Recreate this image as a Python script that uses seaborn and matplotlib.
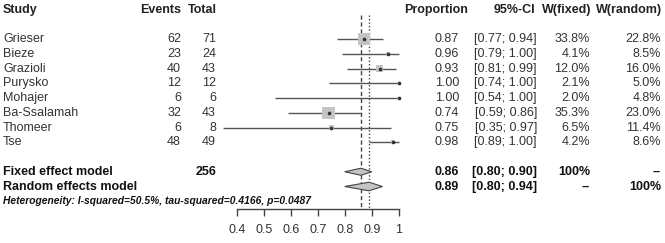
import numpy as np
import pandas as pd
import matplotlib
matplotlib.use("Agg")
import matplotlib.pyplot as plt
import seaborn as sns
from matplotlib.patches import Polygon

sns.set_theme(style="white")
plt.rcParams['font.family'] = ['Liberation Sans', 'DejaVu Sans']

studies = ["Grieser", "Bieze", "Grazioli", "Purysko", "Mohajer", "Ba-Ssalamah", "Thomeer", "Tse"]
events = [62, 23, 40, 12, 6, 32, 6, 48]
totals = [71, 24, 43, 12, 6, 43, 8, 49]
prop = [0.87, 0.96, 0.93, 1.00, 1.00, 0.74, 0.75, 0.98]
lower = [0.77, 0.79, 0.81, 0.74, 0.54, 0.59, 0.35, 0.89]
upper = [0.94, 1.00, 0.99, 1.00, 1.00, 0.86, 0.97, 1.00]
w_fixed = [33.8, 4.1, 12.0, 2.1, 2.0, 35.3, 6.5, 4.2]
w_random = [22.8, 8.5, 16.0, 5.0, 4.8, 23.0, 11.4, 8.6]

fixed_est, fixed_lo, fixed_hi = 0.86, 0.80, 0.90
rand_est, rand_lo, rand_hi = 0.89, 0.80, 0.94
total_n = 256
het_text = "Heterogeneity: I-squared=50.5%, tau-squared=0.4166, p=0.0487"
xticks = [0.4, 0.5, 0.6, 0.7, 0.8, 0.9, 1.0]
xticklabels = ["0.4", "0.5", "0.6", "0.7", "0.8", "0.9", "1"]

df = pd.DataFrame({"study": studies, "prop": prop, "lo": lower, "hi": upper,
                   "wf": w_fixed, "row": np.arange(len(studies))})

W, H = 665, 243
fig = plt.figure(figsize=(W / 100, H / 100), dpi=100)
ax = fig.add_axes([0, 0, 1, 1])
# pixel mapping: x_px = 236.7 + (v-0.4)*270 ; y_px = 39 + row*14.75
ax.set_xlim(0.4 - 236.7 / 270, 0.4 + (W - 236.7) / 270)
ax.set_ylim((H - 39) / 14.75, -39 / 14.75)

def px2x(px):
    return 0.4 + (px - 236.7) / 270

fs = 9
dark = "#555555"

# CI lines
ax.hlines(df["row"], df["lo"], df["hi"], color=dark, lw=1.0, zorder=2)
# squares
sns.scatterplot(data=df, x="prop", y="row", size="wf", sizes=(75 * 2.0 / 33.8, 75 * 35.3 / 33.8),
                size_norm=(2.0, 35.3), marker="s", color="#c4c4c4", edgecolor="none",
                legend=False, ax=ax, zorder=3)
ax.scatter(df["prop"], df["row"], s=7, color="#333333", zorder=4, marker="o", linewidths=0)

# summary diamonds
for (est, lo, hi, row, hh) in [(fixed_est, fixed_lo, fixed_hi, 9, 0.24), (rand_est, rand_lo, rand_hi, 10, 0.29)]:
    ax.add_patch(Polygon([[lo, row], [est, row - hh], [hi, row], [est, row + hh]],
                         closed=True, facecolor="#c4c4c4", edgecolor="#444444", lw=0.8, zorder=3))

# reference lines
axis_row = (209 - 39) / 14.75
ax.vlines(fixed_est, -1.63, axis_row, color="#444444", lw=1.0, ls=(0, (3, 2)), zorder=1)
ax.vlines(rand_est, -1.63, axis_row, color="#444444", lw=1.0, ls=(0, (1, 1.5)), zorder=1)

# axis
for s in ["top", "right", "left"]:
    ax.spines[s].set_visible(False)
ax.spines["bottom"].set_position(("data", axis_row))
ax.spines["bottom"].set_bounds(0.4, 1.0)
ax.spines["bottom"].set_color("#444444")
ax.spines["bottom"].set_linewidth(1.0)
ax.set_xticks(xticks)
ax.set_xticklabels(xticklabels, fontsize=fs, color="#333333")
ax.tick_params(axis="x", direction="out", length=5, width=1.0, color="#444444", pad=6, bottom=True)
ax.set_yticks([])
ax.set_xlabel("")
ax.set_ylabel("")

# column texts
txt = "#333333"
hc = "#222222"
hdr_row = -2
ax.text(px2x(3), hdr_row, "Study", fontsize=fs, fontweight="bold", ha="left", va="center", color=hc)
ax.text(px2x(181), hdr_row, "Events", fontsize=fs, fontweight="bold", ha="right", va="center", color=hc)
ax.text(px2x(217), hdr_row, "Total", fontsize=fs, fontweight="bold", ha="right", va="center", color=hc)
ax.text(px2x(404), hdr_row, "Proportion", fontsize=fs, fontweight="bold", ha="left", va="center", color=hc)
ax.text(px2x(535), hdr_row, "95%-CI", fontsize=fs, fontweight="bold", ha="right", va="center", color=hc)
ax.text(px2x(591), hdr_row, "W(fixed)", fontsize=fs, fontweight="bold", ha="right", va="center", color=hc)
ax.text(px2x(662), hdr_row, "W(random)", fontsize=fs, fontweight="bold", ha="right", va="center", color=hc)

for i in range(len(studies)):
    ax.text(px2x(3), i, studies[i], fontsize=fs, ha="left", va="center", color=txt)
    ax.text(px2x(181), i, f"{events[i]}", fontsize=fs, ha="right", va="center", color=txt)
    ax.text(px2x(216), i, f"{totals[i]}", fontsize=fs, ha="right", va="center", color=txt)
    ax.text(px2x(459), i, f"{prop[i]:.2f}", fontsize=fs, ha="right", va="center", color=txt)
    ax.text(px2x(537), i, f"[{lower[i]:.2f}; {upper[i]:.2f}]", fontsize=fs, ha="right", va="center", color=txt)
    ax.text(px2x(590), i, f"{w_fixed[i]:.1f}%", fontsize=fs, ha="right", va="center", color=txt)
    ax.text(px2x(661), i, f"{w_random[i]:.1f}%", fontsize=fs, ha="right", va="center", color=txt)

bk = "#111111"
ax.text(px2x(3), 9, "Fixed effect model", fontsize=fs, fontweight="bold", ha="left", va="center", color=bk)
ax.text(px2x(216), 9, f"{total_n}", fontsize=fs, fontweight="bold", ha="right", va="center", color=bk)
ax.text(px2x(459), 9, f"{fixed_est:.2f}", fontsize=fs, fontweight="bold", ha="right", va="center", color=bk)
ax.text(px2x(537), 9, f"[{fixed_lo:.2f}; {fixed_hi:.2f}]", fontsize=fs, fontweight="bold", ha="right", va="center", color=bk)
ax.text(px2x(590), 9, "100%", fontsize=fs, fontweight="bold", ha="right", va="center", color=bk)
ax.text(px2x(661), 9, "--", fontsize=fs, fontweight="bold", ha="right", va="center", color=bk)

ax.text(px2x(3), 10, "Random effects model", fontsize=fs, fontweight="bold", ha="left", va="center", color=bk)
ax.text(px2x(459), 10, f"{rand_est:.2f}", fontsize=fs, fontweight="bold", ha="right", va="center", color=bk)
ax.text(px2x(537), 10, f"[{rand_lo:.2f}; {rand_hi:.2f}]", fontsize=fs, fontweight="bold", ha="right", va="center", color=bk)
ax.text(px2x(590), 10, "--", fontsize=fs, fontweight="bold", ha="right", va="center", color=bk)
ax.text(px2x(661), 10, "100%", fontsize=fs, fontweight="bold", ha="right", va="center", color=bk)

ax.text(px2x(3), 11, het_text, fontsize=7.4, fontweight="bold", fontstyle="italic",
        ha="left", va="center", color=bk)

fig.savefig("out.png", dpi=100)
